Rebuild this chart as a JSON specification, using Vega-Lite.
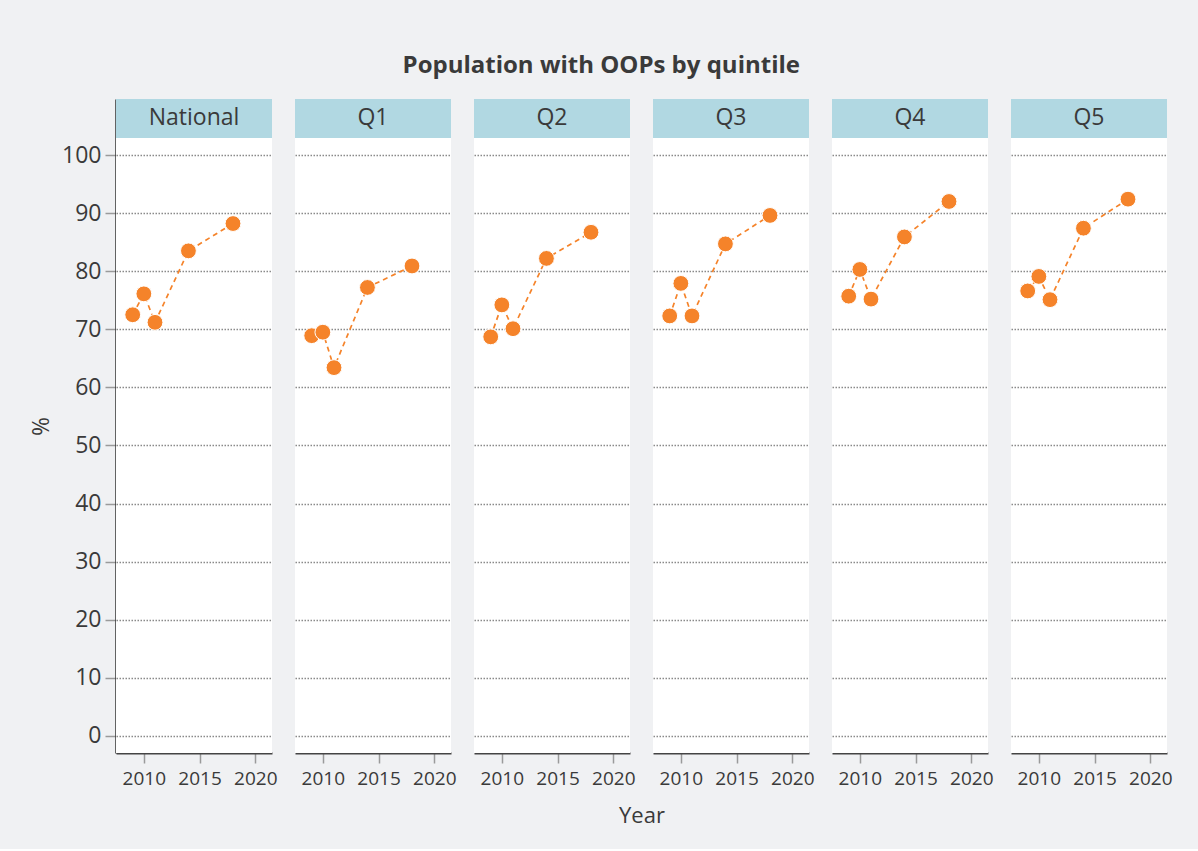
{
  "$schema": "https://vega.github.io/schema/vega-lite/v6.json",
  "background": "#f0f1f3",
  "padding": {"left": 30, "top": 54, "right": 30, "bottom": 22},
  "title": {"text": "Population with OOPs by quintile", "anchor": "middle", "font": "Open Sans", "fontSize": 24, "fontWeight": "bold", "color": "#3a3a3a", "offset": 21},
  "data": {"values": [
    {"group": "National", "year": 2009, "value": 72.5},
    {"group": "National", "year": 2010, "value": 76.1},
    {"group": "National", "year": 2011, "value": 71.2},
    {"group": "National", "year": 2014, "value": 83.5},
    {"group": "National", "year": 2018, "value": 88.2},
    {"group": "Q1", "year": 2009, "value": 68.9},
    {"group": "Q1", "year": 2010, "value": 69.5},
    {"group": "Q1", "year": 2011, "value": 63.4},
    {"group": "Q1", "year": 2014, "value": 77.2},
    {"group": "Q1", "year": 2018, "value": 80.9},
    {"group": "Q2", "year": 2009, "value": 68.7},
    {"group": "Q2", "year": 2010, "value": 74.2},
    {"group": "Q2", "year": 2011, "value": 70.1},
    {"group": "Q2", "year": 2014, "value": 82.2},
    {"group": "Q2", "year": 2018, "value": 86.7},
    {"group": "Q3", "year": 2009, "value": 72.3},
    {"group": "Q3", "year": 2010, "value": 77.9},
    {"group": "Q3", "year": 2011, "value": 72.3},
    {"group": "Q3", "year": 2014, "value": 84.7},
    {"group": "Q3", "year": 2018, "value": 89.6},
    {"group": "Q4", "year": 2009, "value": 75.7},
    {"group": "Q4", "year": 2010, "value": 80.3},
    {"group": "Q4", "year": 2011, "value": 75.2},
    {"group": "Q4", "year": 2014, "value": 85.9},
    {"group": "Q4", "year": 2018, "value": 92.0},
    {"group": "Q5", "year": 2009, "value": 76.6},
    {"group": "Q5", "year": 2010, "value": 79.1},
    {"group": "Q5", "year": 2011, "value": 75.1},
    {"group": "Q5", "year": 2014, "value": 87.4},
    {"group": "Q5", "year": 2018, "value": 92.4}
  ]},
  "facet": {
    "column": {
      "field": "group",
      "type": "nominal",
      "sort": ["National", "Q1", "Q2", "Q3", "Q4", "Q5"],
      "title": "Year",
      "header": {
        "labels": false,
        "titleOrient": "bottom",
        "titleFont": "Open Sans",
        "titleFontSize": 22,
        "titleFontWeight": "normal",
        "titleColor": "#3a3a3a",
        "titlePadding": 8
      }
    }
  },
  "spacing": 23,
  "spec": {
    "width": 156,
    "height": 654,
    "encoding": {
      "x": {
        "field": "year",
        "type": "quantitative",
        "scale": {"domain": [2007.5, 2021.5], "nice": false, "zero": false},
        "axis": {
          "title": null,
          "values": [2010, 2015, 2020],
          "format": "d",
          "grid": false,
          "labelFont": "Open Sans",
          "labelFontSize": 19,
          "labelColor": "#3a3a3a",
          "labelPadding": 6,
          "tickColor": "#9a9a9a",
          "tickSize": 10,
          "tickWidth": 1.5,
          "domainColor": "#444444",
          "domainWidth": 2
        }
      },
      "y": {
        "field": "value",
        "type": "quantitative",
        "scale": {"domain": [-2.93, 109.64], "nice": false, "zero": false},
        "axis": {
          "title": "%",
          "titleFont": "Open Sans",
          "titleFontSize": 23,
          "titleFontWeight": "normal",
          "titleColor": "#3a3a3a",
          "titlePadding": 8,
          "values": [0, 10, 20, 30, 40, 50, 60, 70, 80, 90, 100],
          "labelFont": "Open Sans",
          "labelFontSize": 23,
          "labelColor": "#3a3a3a",
          "labelPadding": 4,
          "tickColor": "#9a9a9a",
          "tickSize": 11,
          "tickWidth": 1.5,
          "domainColor": "#333333",
          "domainWidth": 2.5,
          "grid": true,
          "gridColor": "#8a8a8a",
          "gridDash": [1.5, 1.5],
          "gridWidth": 1.3
        }
      }
    },
    "layer": [
      {
        "mark": {"type": "line", "color": "#f5832a", "strokeDash": [5, 4], "strokeWidth": 1.7}
      },
      {
        "mark": {"type": "point", "filled": true, "shape": "circle", "size": 250, "color": "#f5832a", "stroke": "white", "strokeWidth": 1, "opacity": 1}
      },
      {
        "transform": [{"filter": "datum.year == 2009"}],
        "mark": {"type": "rect", "color": "#b1d8e2"},
        "encoding": {
          "x": {"datum": 2007.5},
          "x2": {"datum": 2021.5},
          "y": {"datum": 102.93},
          "y2": {"datum": 109.64}
        }
      },
      {
        "transform": [{"filter": "datum.year == 2009"}],
        "mark": {"type": "text", "font": "Open Sans", "fontSize": 23, "color": "#3a3a3a", "baseline": "middle", "align": "center"},
        "encoding": {
          "x": {"datum": 2014.5},
          "y": {"datum": 106.29},
          "text": {"field": "group"}
        }
      }
    ]
  },
  "config": {
    "view": {"fill": "white", "stroke": null},
    "axis": {"labelFont": "Open Sans"}
  }
}
